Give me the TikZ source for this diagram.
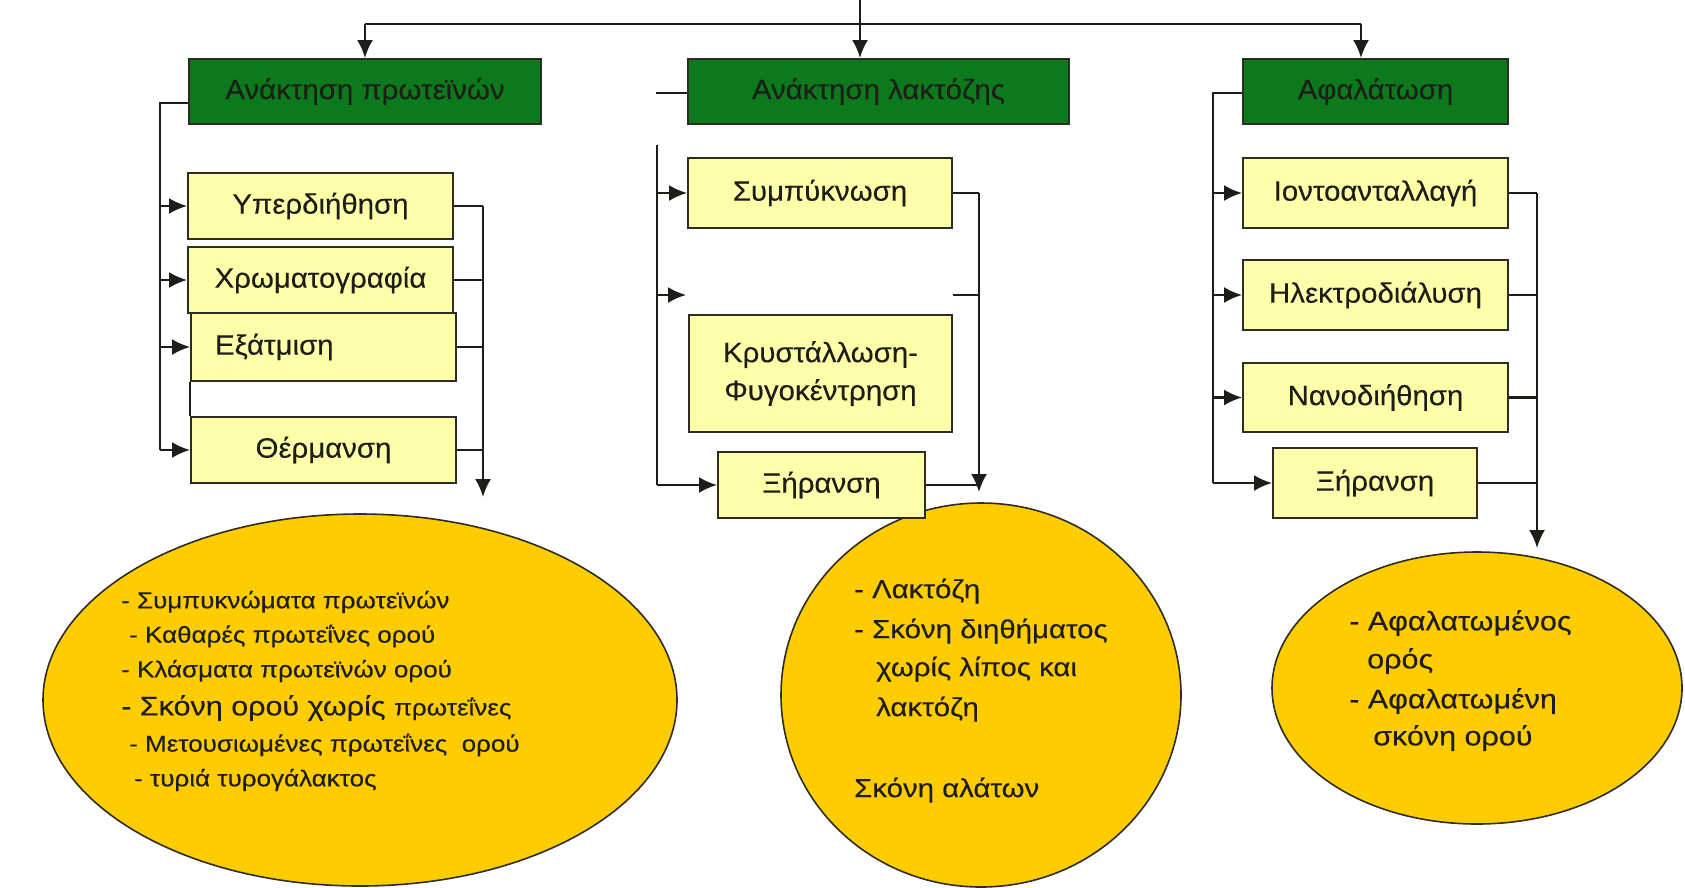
\documentclass[tikz,border=0pt]{standalone}
\usepackage{fontspec}
\setmainfont{Liberation Sans}[FakeStretch=1.05,FakeBold=0.25]
\newfontfamily\widefont{Liberation Sans}[FakeStretch=1.13,FakeBold=0.25]
\usetikzlibrary{arrows.meta,shapes.geometric}
\definecolor{hdgreen}{RGB}{12,122,28}
\definecolor{boxyellow}{RGB}{255,255,170}
\definecolor{ellgold}{RGB}{255,204,0}
\definecolor{edgec}{RGB}{45,45,35}
\definecolor{inkc}{RGB}{30,30,25}
\newcommand{\fs}[1]{\fontsize{#1}{#1}\selectfont}
\begin{document}
\begin{tikzpicture}[x=1pt,y=-1pt,
  hdr/.style={draw=edgec, line width=2pt, fill=hdgreen, minimum height=65pt, inner sep=0pt, font=\fs{28}, text=inkc},
  proc/.style={draw=edgec, line width=2pt, fill=boxyellow, inner sep=0pt, font=\fs{28}, text=inkc, align=center},
  res/.style={draw=edgec, line width=1.6pt, fill=ellgold, ellipse, inner sep=0pt},
  conn/.style={line width=2.2pt, draw=inkc},
  arr/.style={conn, -{Latex[length=18pt,width=16pt]}},
  txt/.style={anchor=west, inner sep=0pt, text=inkc}
]
\useasboundingbox (0,0) rectangle (1685,887);

% ellipses (drawn first so boxes/arrows lie over them)
\node[res, minimum width=634pt, minimum height=372pt] (e1) at (360,700) {};
\node[res, minimum width=400pt, minimum height=384pt] (e2) at (981,695) {};
\node[res, minimum width=410pt, minimum height=272pt] (e3) at (1477,688) {};

% headers
\node[hdr, minimum width=352pt] (h1) at (365,91.5) {Ανάκτηση πρωτεϊνών};
\node[hdr, minimum width=381pt] (h2) at (878.5,91.5) {Ανάκτηση λακτόζης};
\node[hdr, minimum width=265pt] (h3) at (1375.5,91.5) {Αφαλάτωση};

% left column
\node[proc, minimum width=265pt, minimum height=66pt] (p1) at (320.5,206) {Υπερδιήθηση};
\node[proc, minimum width=265pt, minimum height=66pt] (p2) at (320.5,280) {Χρωματογραφία};
\node[proc, minimum width=265pt, minimum height=68pt, text width=217pt, align=left] (p3) at (323.5,347) {Εξάτμιση};
\node[proc, minimum width=265pt, minimum height=66pt] (p4) at (323.5,450) {Θέρμανση};

% middle column
\node[proc, minimum width=264pt, minimum height=70pt] (m1) at (820,193) {Συμπύκνωση};
\node[proc, minimum width=263pt, minimum height=117pt, font=\fontsize{28}{38}\selectfont] (m2) at (820.5,373.5) {Κρυστάλλωση-\\Φυγοκέντρηση};
\node[proc, minimum width=207pt, minimum height=66pt] (m3) at (821.5,485) {Ξήρανση};

% right column
\node[proc, minimum width=265pt, minimum height=70pt] (r1) at (1375.5,193) {Ιοντοανταλλαγή};
\node[proc, minimum width=265pt, minimum height=70pt] (r2) at (1375.5,295) {Ηλεκτροδιάλυση};
\node[proc, minimum width=265pt, minimum height=69pt] (r3) at (1375.5,397.5) {Νανοδιήθηση};
\node[proc, minimum width=204pt, minimum height=70pt] (r4) at (1375,483) {Ξήρανση};

% top distribution
\coordinate (src) at (860,0);
\coordinate (jl) at (365,23.6);
\coordinate (jr) at (1361,23.6);
\draw[conn] (jl) -- (jr);
\draw[arr] (src) -- (src |- h2.north);
\draw[arr] (jl) -- (h1.north);
\draw[arr] (jr) -- (jr |- h3.north);

% left column connectors
\coordinate (lt) at (160,103);
\coordinate (lb) at (160,450);
\coordinate (lc) at (483,497);
\draw[conn] (h1.west |- lt) -- (lt) -- (lb);
\draw[arr] (lt |- p1) -- (p1.west);
\draw[arr] (lt |- p2) -- (p2.west);
\draw[arr] (lt |- p3) -- (p3.west);
\draw[arr] (lb) -- (p4.west);
\draw[conn] (p1.east) -- (p1.east -| lc);
\draw[conn] (p2.east) -- (p2.east -| lc);
\draw[conn] (p3.east) -- (p3.east -| lc);
\draw[conn] (p4.east) -- (p4.east -| lc);
\draw[arr] (p1.east -| lc) -- (lc);
\draw[line width=1.5pt, draw=inkc] (p3.south west) -- (p4.north west);

% middle column connectors
\coordinate (ms) at (656,93);
\coordinate (mt) at (657,145);
\coordinate (mb) at (657,485);
\coordinate (mgap) at (686,295);
\coordinate (mstub) at (953,295);
\coordinate (mc) at (979,492);
\draw[conn] (ms) -- (h2.west |- ms);
\draw[conn] (mt) -- (mb);
\draw[arr] (mt |- m1) -- (m1.west);
\draw[arr] (mt |- mgap) -- (mgap);
\draw[arr] (mb) -- (m3.west);
\draw[conn] (m1.east) -- (m1.east -| mc);
\draw[conn] (mstub) -- (mstub -| mc);
\draw[conn] (m3.east) -- (m3.east -| mc);
\draw[arr] (m1.east -| mc) -- (mc);

% right column connectors
\coordinate (rt) at (1213,93);
\coordinate (rb) at (1213,483);
\coordinate (rc) at (1537,548);
\draw[conn] (h3.west |- rt) -- (rt) -- (rb);
\draw[arr] (rt |- r1) -- (r1.west);
\draw[arr] (rt |- r2) -- (r2.west);
\draw[arr] (rt |- r3) -- (r3.west);
\draw[arr] (rb) -- (r4.west);
\draw[conn] (r1.east) -- (r1.east -| rc);
\draw[conn] (r2.east) -- (r2.east -| rc);
\draw[conn] (r3.east) -- (r3.east -| rc);
\draw[conn] (r4.east) -- (r4.east -| rc);
\draw[arr] (r1.east -| rc) -- (rc);

% left ellipse text
\node[txt, font=\widefont\fs{23}] (a1) at (121,602) {- Συμπυκνώματα πρωτεϊνών};
\node[txt, font=\widefont\fs{23}] (a2) at (129,636) {- Καθαρές πρωτεΐνες ορού};
\node[txt, font=\widefont\fs{23}] (a3) at (121,671) {- Κλάσματα πρωτεϊνών ορού};
\node[txt, font=\widefont\fs{27}] (a4) at (121,708) {- Σκόνη ορού χωρίς {\fs{23}πρωτεΐνες}};
\node[txt, font=\widefont\fs{23}] (a5) at (129,745) {- Μετουσιωμένες πρωτεΐνες\ \ ορού};
\node[txt, font=\widefont\fs{23}] (a6) at (134,780) {- τυριά τυρογάλακτος};

% middle ellipse text
\node[txt, font=\widefont\fs{26}] (b1) at (854,591) {- Λακτόζη};
\node[txt, font=\widefont\fs{26}] (b2) at (854,631) {- Σκόνη διηθήματος};
\node[txt, font=\widefont\fs{26}] (b3) at (876,669) {χωρίς λίπος και};
\node[txt, font=\widefont\fs{26}] (b4) at (876,709) {λακτόζη};
\node[txt, font=\widefont\fs{26}] (b5) at (854,790) {Σκόνη αλάτων};

% right ellipse text
\node[txt, font=\widefont\fs{27}] (c1) at (1349,623) {- Αφαλατωμένος};
\node[txt, font=\widefont\fs{27}] (c2) at (1367,661) {ορός};
\node[txt, font=\widefont\fs{27}] (c3) at (1349,701) {- Αφαλατωμένη};
\node[txt, font=\widefont\fs{27}] (c4) at (1373,738) {σκόνη ορού};
\end{tikzpicture}
\end{document}
